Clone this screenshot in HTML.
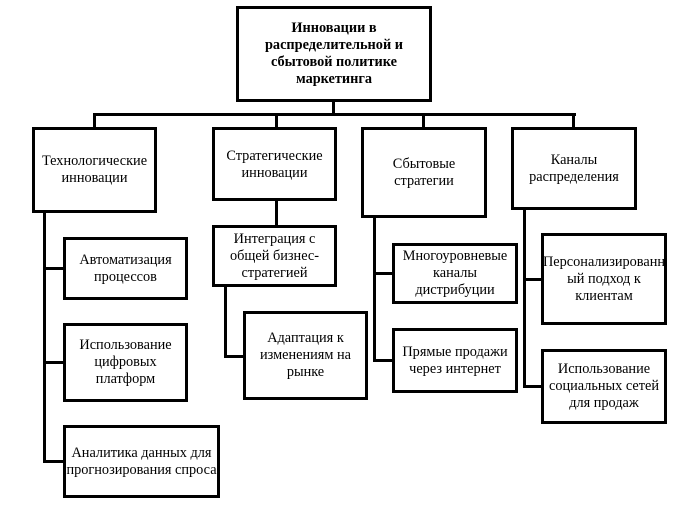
<!DOCTYPE html>
<html><head><meta charset="utf-8"><style>
body{margin:0;width:688px;height:513px;background:#fff;position:relative;overflow:hidden;font-family:"Liberation Serif","Noto Serif CJK SC",serif;font-size:14.3px;color:#000}
.b{position:absolute;border:3px solid #000;box-sizing:border-box;display:flex;align-items:center;justify-content:center;text-align:center;line-height:17px;background:#fff;white-space:nowrap}
.l{position:absolute;background:#000}
</style></head><body>
<div class="l" style="left:332px;top:100px;width:3px;height:16px"></div>
<div class="l" style="left:93px;top:113px;width:483px;height:3px"></div>
<div class="l" style="left:93px;top:113px;width:3px;height:16px"></div>
<div class="l" style="left:275px;top:113px;width:3px;height:16px"></div>
<div class="l" style="left:422px;top:113px;width:3px;height:16px"></div>
<div class="l" style="left:572px;top:113px;width:3px;height:16px"></div>

<div class="l" style="left:43px;top:210px;width:3px;height:253px"></div>
<div class="l" style="left:43px;top:267px;width:22px;height:3px"></div>
<div class="l" style="left:43px;top:361px;width:22px;height:3px"></div>
<div class="l" style="left:43px;top:460px;width:22px;height:3px"></div>

<div class="l" style="left:275px;top:199px;width:3px;height:28px"></div>
<div class="l" style="left:224px;top:284px;width:3px;height:74px"></div>
<div class="l" style="left:224px;top:355px;width:21px;height:3px"></div>

<div class="l" style="left:373px;top:215px;width:3px;height:147px"></div>
<div class="l" style="left:373px;top:272px;width:22px;height:3px"></div>
<div class="l" style="left:373px;top:359px;width:22px;height:3px"></div>

<div class="l" style="left:523px;top:208px;width:3px;height:180px"></div>
<div class="l" style="left:523px;top:278px;width:21px;height:3px"></div>
<div class="l" style="left:523px;top:385px;width:21px;height:3px"></div>

<div class="b" style="left:236px;top:6px;width:196px;height:96px;font-weight:bold">Инновации в<br>распределительной и<br>сбытовой политике<br>маркетинга</div>

<div class="b" style="left:32px;top:127px;width:125px;height:86px">Технологические<br>инновации</div>
<div class="b" style="left:212px;top:127px;width:125px;height:74px;align-items:flex-start;padding-top:18px">Стратегические<br>инновации</div>
<div class="b" style="left:361px;top:127px;width:126px;height:91px">Сбытовые<br>стратегии</div>
<div class="b" style="left:511px;top:127px;width:126px;height:83px">Каналы<br>распределения</div>

<div class="b" style="left:63px;top:237px;width:125px;height:63px">Автоматизация<br>процессов</div>
<div class="b" style="left:63px;top:323px;width:125px;height:79px">Использование<br>цифровых<br>платформ</div>
<div class="b" style="left:63px;top:425px;width:157px;height:73px">Аналитика данных для<br>прогнозирования спроса</div>

<div class="b" style="left:212px;top:225px;width:125px;height:62px">Интеграция с<br>общей бизнес-<br>стратегией</div>
<div class="b" style="left:243px;top:311px;width:125px;height:89px">Адаптация к<br>изменениям на<br>рынке</div>

<div class="b" style="left:392px;top:243px;width:126px;height:61px">Многоуровневые<br>каналы<br>дистрибуции</div>
<div class="b" style="left:392px;top:328px;width:126px;height:65px">Прямые продажи<br>через интернет</div>

<div class="b" style="left:541px;top:233px;width:126px;height:92px">Персонализированн<br>ый подход к<br>клиентам</div>
<div class="b" style="left:541px;top:349px;width:126px;height:75px">Использование<br>социальных сетей<br>для продаж</div>
</body></html>
